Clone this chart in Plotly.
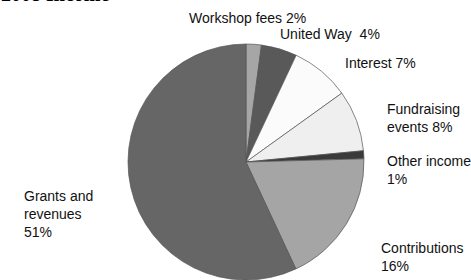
import plotly.graph_objects as go

# ---- data ----
categories = ["Workshop fees", "United Way", "Interest", "Fundraising events",
              "Other income", "Contributions", "Grants and revenues"]
values = [2.1, 4.9, 8.1, 8.4, 1.1, 18.5, 57.0]          # slice shares as drawn
pct_labels = ["2%", "4%", "7%", "8%", "1%", "16%", "51%"]  # printed labels
title_text = "2008 Income"

# ---- styling / layout ----
colors = ["#a6a6a6", "#595959", "#fbfbfb", "#efefef", "#3a3a3a", "#a5a5a5", "#666666"]
display_names = ["Workshop fees", "United Way\u00a0", "Interest", "Fundraising<br>events",
                 "Other income<br>", "Contributions<br>", "Grants and<br>revenues<br>"]
# label anchor positions in pixels (left x, vertical centre y from top)
label_px = [(187, 17.5), (278, 33.5), (343, 63), (385, 118),
            (385, 170), (379, 257), (22, 214)]

W, H = 471, 280
cx, cy, r = 246, 162, 118

fig = go.Figure(go.Pie(
    labels=categories,
    values=values,
    sort=False,
    direction="clockwise",
    rotation=0,
    textinfo="none",
    hoverinfo="label+percent",
    marker=dict(colors=colors, line=dict(color="#555555", width=0.7)),
    domain=dict(x=[(cx - r) / W, (cx + r) / W], y=[(H - cy - r) / H, (H - cy + r) / H]),
    showlegend=False,
))

annotations = []
for name, pct, (px, py) in zip(display_names, pct_labels, label_px):
    txt = name + ("" if name.endswith("<br>") else " ") + pct
    annotations.append(dict(
        text=txt, x=px / W, y=1 - py / H, xref="paper", yref="paper",
        xanchor="left", yanchor="middle", align="left", showarrow=False,
        font=dict(family="Liberation Sans, Arial, sans-serif", size=14, color="#111111"),
    ))

annotations.append(dict(
    text="<b>" + title_text + "</b>", x=-1 / W, y=1 - 7 / H, xref="paper", yref="paper",
    xanchor="left", yanchor="bottom", showarrow=False,
    font=dict(family="Liberation Serif, Times New Roman, serif", size=20, color="#000000"),
))

fig.update_layout(
    width=W, height=H,
    margin=dict(l=0, r=0, t=0, b=0),
    paper_bgcolor="white", plot_bgcolor="white",
    annotations=annotations,
)

fig.write_html(
    "out.html",
    config={"displayModeBar": False},
    post_script="document.body.style.margin='0';document.body.style.overflow='hidden';",
)
